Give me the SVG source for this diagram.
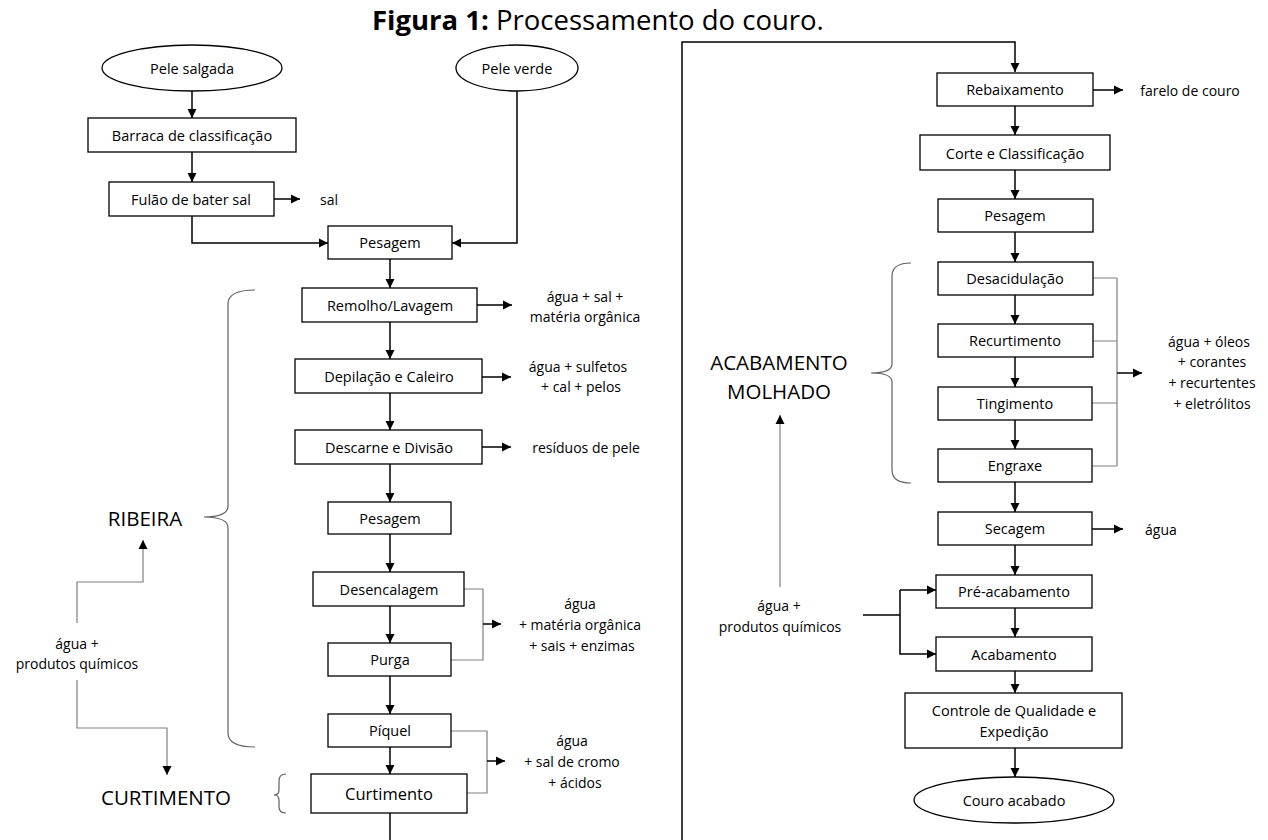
<svg xmlns="http://www.w3.org/2000/svg" width="1268" height="840" viewBox="0 0 1268 840">
<defs>
<marker id="ah" markerUnits="userSpaceOnUse" markerWidth="10" markerHeight="10" refX="9" refY="5" orient="auto">
<path d="M0,0.5 L9,5 L0,9.5 Z" fill="#000"/>
</marker>
</defs>
<style>
text{font-family:"Open Sans","Liberation Sans",sans-serif;fill:#000;}
.t{font-size:14.5px;text-anchor:middle;dominant-baseline:central;}
.s{font-size:14px;text-anchor:middle;dominant-baseline:central;}
.big{font-size:20.5px;text-anchor:middle;dominant-baseline:central;}
.box{fill:#fff;stroke:#000;stroke-width:1.3;}
.c{fill:none;stroke:#000;stroke-width:1.5;}
.a{fill:none;stroke:#000;stroke-width:1.5;marker-end:url(#ah);}
.g{fill:none;stroke:#808080;stroke-width:1.2;}
.ga{fill:none;stroke:#808080;stroke-width:1.2;marker-end:url(#ah);}
.br{fill:none;stroke:#606060;stroke-width:1.2;}
</style>
<rect width="1268" height="840" fill="#fff"/>
<text x="372" y="30" style="font-size:27.5px;"><tspan font-weight="bold">Figura 1:</tspan> Processamento do couro.</text>

<g id="connectors">
<path class="a" d="M192,91 V118"/>
<path class="a" d="M192,152 V182"/>
<path class="a" d="M192,216 V243 H328"/>
<path class="a" d="M517,91 V243 H452"/>
<path class="a" d="M274,199 H300"/>
<path class="a" d="M390,259 V288"/>
<path class="a" d="M390,322 V359"/>
<path class="a" d="M390,393 V430"/>
<path class="a" d="M390,464 V502"/>
<path class="a" d="M390,534 V572"/>
<path class="a" d="M390,606 V643"/>
<path class="a" d="M390,676 V714"/>
<path class="a" d="M390,747 V774"/>
<path class="c" d="M390,813 V840"/>
<path class="a" d="M477,305 H512"/>
<path class="a" d="M482,377 H511"/>
<path class="a" d="M482,447 H511"/>
<path class="g" d="M464,589 H483 V660 H451"/>
<path class="a" d="M483,624 H501"/>
<path class="g" d="M451,731 H487 V793 H467"/>
<path class="a" d="M487,761 H505"/>
<path class="ga" d="M77,623 V582 H143 V540"/>
<path class="ga" d="M77,680 V728 H167 V775"/>
<path class="a" d="M682,840 V42 H1015 V72"/>
<path class="a" d="M1015,106 V135"/>
<path class="a" d="M1015,170 V199"/>
<path class="a" d="M1015,232 V262"/>
<path class="a" d="M1015,295 V324"/>
<path class="a" d="M1015,357 V387"/>
<path class="a" d="M1015,420 V449"/>
<path class="a" d="M1015,482 V512"/>
<path class="a" d="M1015,545 V575"/>
<path class="a" d="M1015,608 V637"/>
<path class="a" d="M1015,671 V693"/>
<path class="a" d="M1015,748 V777"/>
<path class="a" d="M1093,90 H1123"/>
<path class="a" d="M1092,529 H1123"/>
<path class="g" d="M1093,278 H1117 M1093,341 H1117 M1092,403 H1117 M1092,466 H1117 M1117,278 V466"/>
<path class="a" d="M1117,373 H1142"/>
<path class="c" d="M863,615 H900"/>
<path class="a" d="M900,590 V654 H936"/>
<path class="a" d="M900,590 H936"/>
<path class="ga" d="M780,587 V415"/>
</g>

<g id="braces">
<path class="br" d="M255,290 Q228,290 228,304 L228,506 Q228,517 204,517 Q228,517 228,528 L228,733 Q228,747 255,747"/>
<path class="br" d="M286,774 Q279,774 279,781 L279,790 Q279,795 274,795 Q279,795 279,800 L279,807 Q279,813 286,813"/>
<path class="br" d="M911,263 Q892,263 892,276 L892,364 Q892,373 871,373 Q892,373 892,382 L892,470 Q892,483 911,483"/>
</g>

<g id="pele-salgada"><ellipse class="box" cx="192" cy="68" rx="90" ry="23"/><text class="t" x="192" y="68">Pele salgada</text></g>
<g id="pele-verde"><ellipse class="box" cx="517" cy="68" rx="61" ry="23"/><text class="t" x="517" y="68">Pele verde</text></g>
<g id="barraca"><rect class="box" x="88" y="118" width="208" height="34"/><text class="t" x="192" y="135">Barraca de classificação</text></g>
<g id="fulao"><rect class="box" x="109" y="182" width="165" height="34"/><text class="t" x="191" y="199">Fulão de bater sal</text></g>
<g id="pesagem1"><rect class="box" x="328" y="226" width="124" height="33"/><text class="t" x="390" y="242">Pesagem</text></g>
<g id="remolho"><rect class="box" x="302" y="288" width="175" height="34"/><text class="t" x="390" y="305">Remolho/Lavagem</text></g>
<g id="depilacao"><rect class="box" x="295" y="359" width="187" height="34"/><text class="t" x="389" y="376">Depilação e Caleiro</text></g>
<g id="descarne"><rect class="box" x="295" y="430" width="187" height="34"/><text class="t" x="389" y="447">Descarne e  Divisão</text></g>
<g id="pesagem2"><rect class="box" x="328" y="502" width="123" height="32"/><text class="t" x="390" y="518">Pesagem</text></g>
<g id="desencalagem"><rect class="box" x="313" y="572" width="151" height="34"/><text class="t" x="389" y="589">Desencalagem</text></g>
<g id="purga"><rect class="box" x="328" y="643" width="123" height="33"/><text class="t" x="390" y="659">Purga</text></g>
<g id="piquel"><rect class="box" x="328" y="714" width="123" height="33"/><text class="t" x="390" y="730">Píquel</text></g>
<g id="curtimento"><rect class="box" x="311" y="774" width="156" height="39"/><text class="t" x="389" y="793" style="font-size:16.5px">Curtimento</text></g>

<g id="rebaixamento"><rect class="box" x="937" y="73" width="156" height="33"/><text class="t" x="1015" y="89">Rebaixamento</text></g>
<g id="corte"><rect class="box" x="920" y="135" width="190" height="35"/><text class="t" x="1015" y="153">Corte e Classificação</text></g>
<g id="pesagem3"><rect class="box" x="938" y="199" width="155" height="33"/><text class="t" x="1015" y="215">Pesagem</text></g>
<g id="desacidulacao"><rect class="box" x="938" y="262" width="155" height="33"/><text class="t" x="1015" y="278">Desacidulação</text></g>
<g id="recurtimento"><rect class="box" x="938" y="324" width="155" height="33"/><text class="t" x="1015" y="340">Recurtimento</text></g>
<g id="tingimento"><rect class="box" x="938" y="387" width="154" height="33"/><text class="t" x="1015" y="403">Tingimento</text></g>
<g id="engraxe"><rect class="box" x="938" y="449" width="154" height="33"/><text class="t" x="1015" y="465">Engraxe</text></g>
<g id="secagem"><rect class="box" x="938" y="512" width="154" height="33"/><text class="t" x="1015" y="528">Secagem</text></g>
<g id="pre-acabamento"><rect class="box" x="936" y="575" width="156" height="33"/><text class="t" x="1014" y="591">Pré-acabamento</text></g>
<g id="acabamento"><rect class="box" x="936" y="637" width="156" height="34"/><text class="t" x="1014" y="654">Acabamento</text></g>
<g id="controle"><rect class="box" x="905" y="693" width="217" height="55"/><text class="t" x="1014" y="710">Controle de Qualidade e</text><text class="t" x="1014" y="731">Expedição</text></g>
<g id="couro-acabado"><ellipse class="box" cx="1014" cy="800" rx="100" ry="23"/><text class="t" x="1014" y="800">Couro acabado</text></g>

<g id="labels">
<text class="s" x="320" y="199" style="text-anchor:start">sal</text>
<text class="s" x="585" y="296">água + sal +</text>
<text class="s" x="585" y="316">matéria orgânica</text>
<text class="s" x="578" y="366">água + sulfetos</text>
<text class="s" x="581" y="386">+ cal + pelos</text>
<text class="s" x="586" y="447">resíduos de pele</text>
<text class="s" x="580" y="603">água</text>
<text class="s" x="580" y="624">+ matéria orgânica</text>
<text class="s" x="582" y="645">+  sais + enzimas</text>
<text class="s" x="572" y="740">água</text>
<text class="s" x="572" y="761">+ sal  de cromo</text>
<text class="s" x="575" y="782">+ ácidos</text>
<text class="s" x="77" y="643">água +</text>
<text class="s" x="77" y="663">produtos químicos</text>
<text class="big" x="145" y="518">RIBEIRA</text>
<text class="big" x="166" y="797">CURTIMENTO</text>
<text class="big" x="779" y="362">ACABAMENTO</text>
<text class="big" x="779" y="391">MOLHADO</text>
<text class="s" x="1190" y="90">farelo de couro</text>
<text class="s" x="1209" y="341">água + óleos</text>
<text class="s" x="1212" y="361">+ corantes</text>
<text class="s" x="1212" y="382">+ recurtentes</text>
<text class="s" x="1212" y="403">+ eletrólitos</text>
<text class="s" x="1145" y="529" style="text-anchor:start">água</text>
<text class="s" x="779" y="605">água +</text>
<text class="s" x="780" y="626">produtos químicos</text>
</g>
</svg>
